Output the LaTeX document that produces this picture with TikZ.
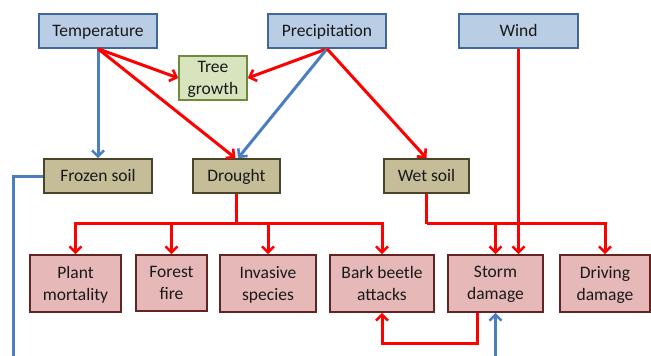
\documentclass[tikz,border=0pt]{standalone}
\usepackage{fontspec}
\setmainfont{Carlito}
\usetikzlibrary{arrows.meta}
\definecolor{bfill}{HTML}{B9CDE5}
\definecolor{bdraw}{HTML}{41689A}
\definecolor{gfill}{HTML}{D7E4BD}
\definecolor{gdraw}{HTML}{6E8A3A}
\definecolor{tfill}{HTML}{C4BD97}
\definecolor{tdraw}{HTML}{4A452A}
\definecolor{pfill}{HTML}{E6B9B8}
\definecolor{pdraw}{HTML}{632523}
\definecolor{rline}{HTML}{FF0000}
\definecolor{bline}{HTML}{4A7EBF}
\tikzset{
  basebox/.style={draw, line width=1.6pt, inner sep=0pt, align=center,
    font=\fontsize{17.5}{22}\selectfont, text=black!90, text depth=1pt},
  topbox/.style={basebox, fill=bfill, draw=bdraw, minimum width=118pt, minimum height=34pt},
  treebox/.style={basebox, fill=gfill, draw=gdraw, minimum width=68pt, minimum height=44pt},
  midbox/.style={basebox, fill=tfill, draw=tdraw, minimum height=34pt},
  effbox/.style={basebox, fill=pfill, draw=pdraw, minimum height=57pt},
  redarr/.style={draw=rline, line width=3pt, -{Straight Barb[length=6pt,width=12pt,line width=2.6pt]}},
  bluearr/.style={draw=bline, line width=3pt, -{Straight Barb[length=6pt,width=12pt,line width=2.6pt]}},
  redln/.style={draw=rline, line width=3pt},
  blueln/.style={draw=bline, line width=3pt},
}
\begin{document}
\begin{tikzpicture}[x=1pt,y=-1pt]
\useasboundingbox (0,0) rectangle (651,356);
% top
\node[topbox] (temp) at (98,31) {Temperature};
\node[topbox] (precip) at (327,31) {Precipitation};
\node[topbox, minimum width=119pt] (wind) at (518.5,31) {Wind};
\node[treebox] (tree) at (213,78) {Tree\\growth};
% middle
\node[midbox, minimum width=108pt] (frozen) at (98,176) {Frozen soil};
\node[midbox, minimum width=87pt] (drought) at (236.5,176) {Drought};
\node[midbox, minimum width=85pt] (wet) at (426.5,176) {Wet soil};
% bottom
\node[effbox, minimum width=91pt] (plant) at (75.5,283.5) {Plant\\mortality};
\node[effbox, minimum width=71pt, minimum height=56pt] (fire) at (171.5,283) {Forest\\fire};
\node[effbox, minimum width=96pt] (inv) at (268,283.5) {Invasive\\species};
\node[effbox, minimum width=104pt] (bark) at (382,283.5) {Bark beetle\\attacks};
\node[effbox, minimum width=95pt] (storm) at (495.5,283.5) {Storm\\damage};
\node[effbox, minimum width=90pt] (drive) at (605,283.5) {Driving\\damage};
% coordinates
\coordinate (fl) at (13,176);
\coordinate (fb) at (13,356);
\coordinate (sb) at (495.5,356);
% arrows from top
\draw[bluearr] (temp.south) -- (frozen.north);
\draw[redarr] (temp.south) -- (tree.west);
\draw[redarr] (temp.south) -- ([xshift=-1pt]drought.north);
\draw[redarr] (precip.south) -- (tree.east);
\draw[bluearr] (precip.south) -- ([xshift=1.5pt]drought.north);
\draw[redarr] (precip.south) -- (wet.north);
\draw[redarr] (wind.south) -- (wind.south |- storm.north);
% drought branches
\draw[redln] (drought.south) -- ++(0,30) coordinate (dj);
\draw[redarr] (dj) -| (plant.north);
\draw[redarr] (dj) -| (fire.north);
\draw[redarr] (dj) -| (inv.north);
\draw[redarr] (dj) -| (bark.north);
% wet soil branches
\draw[redln] (wet.south) -- ++(0,30) coordinate (wj);
\draw[redarr] (wj) -| (storm.north);
\draw[redarr] (wj) -| (drive.north);
% storm to bark
\draw[redarr] ([xshift=-18.5pt]storm.south) -- ++(0,31) -| (bark.south);
% frozen soil blue line
\draw[blueln] (frozen.west) -- (fl) -- (fb);
\draw[bluearr] (sb) -- (storm.south);
\end{tikzpicture}
\end{document}
